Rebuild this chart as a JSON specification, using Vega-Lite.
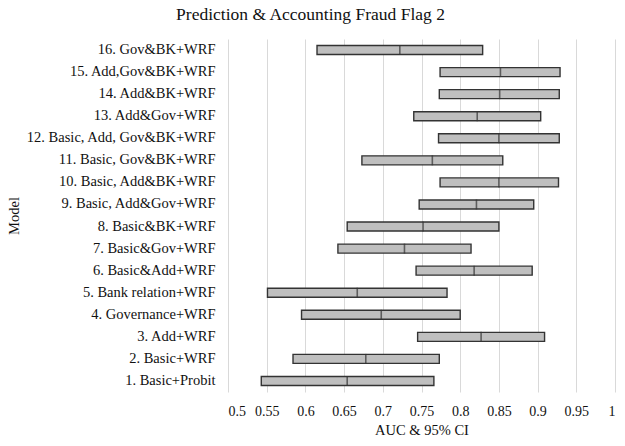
{
  "$schema": "https://vega.github.io/schema/vega-lite/v6.json",
  "autosize": {"type": "none"},
  "padding": {"left": 228, "top": 39, "right": 10, "bottom": 54},
  "width": 387,
  "height": 353,
  "background": "white",
  "title": {
    "text": "Prediction & Accounting Fraud Flag 2",
    "anchor": "middle",
    "frame": "bounds",
    "font": "Liberation Serif",
    "fontSize": 17.5,
    "fontWeight": "normal",
    "color": "#111",
    "offset": 16
  },
  "data": {
    "values": [
      {"id": 1, "model": "1. Basic+Probit", "lo": 0.543, "auc": 0.654, "hi": 0.766},
      {"id": 2, "model": "2. Basic+WRF", "lo": 0.584, "auc": 0.678, "hi": 0.773},
      {"id": 3, "model": "3. Add+WRF", "lo": 0.745, "auc": 0.827, "hi": 0.909},
      {"id": 4, "model": "4. Governance+WRF", "lo": 0.595, "auc": 0.698, "hi": 0.800},
      {"id": 5, "model": "5. Bank relation+WRF", "lo": 0.551, "auc": 0.667, "hi": 0.783},
      {"id": 6, "model": "6. Basic&Add+WRF", "lo": 0.743, "auc": 0.818, "hi": 0.893},
      {"id": 7, "model": "7. Basic&Gov+WRF", "lo": 0.642, "auc": 0.728, "hi": 0.814},
      {"id": 8, "model": "8. Basic&BK+WRF", "lo": 0.654, "auc": 0.752, "hi": 0.850},
      {"id": 9, "model": "9. Basic, Add&Gov+WRF", "lo": 0.747, "auc": 0.821, "hi": 0.895},
      {"id": 10, "model": "10. Basic, Add&BK+WRF", "lo": 0.774, "auc": 0.850, "hi": 0.927},
      {"id": 11, "model": "11. Basic, Gov&BK+WRF", "lo": 0.673, "auc": 0.764, "hi": 0.855},
      {"id": 12, "model": "12. Basic, Add, Gov&BK+WRF", "lo": 0.772, "auc": 0.850, "hi": 0.928},
      {"id": 13, "model": "13. Add&Gov+WRF", "lo": 0.740, "auc": 0.822, "hi": 0.904},
      {"id": 14, "model": "14. Add&BK+WRF", "lo": 0.773, "auc": 0.851, "hi": 0.928},
      {"id": 15, "model": "15. Add,Gov&BK+WRF", "lo": 0.774, "auc": 0.852, "hi": 0.929},
      {"id": 16, "model": "16. Gov&BK+WRF", "lo": 0.615, "auc": 0.722, "hi": 0.829}
    ]
  },
  "encoding": {
    "y": {
      "field": "model",
      "type": "nominal",
      "sort": {"field": "id", "order": "descending"},
      "title": "Model",
      "scale": {"paddingInner": 0, "paddingOuter": 0},
      "axis": {
        "domain": false,
        "ticks": false,
        "labelPadding": 13,
        "labelLimit": 400,
        "labelFont": "Liberation Serif",
        "labelFontSize": 14.5,
        "labelColor": "#111",
        "labelOverlap": false,
        "titleFont": "Liberation Serif",
        "titleFontSize": 14.5,
        "titleFontWeight": "normal",
        "titleColor": "#111",
        "titlePadding": 7
      }
    }
  },
  "layer": [
    {
      "mark": {"type": "bar", "size": 9, "fill": "#bfbfbf", "stroke": "#333", "strokeWidth": 1.4},
      "encoding": {
        "x": {
          "field": "lo",
          "type": "quantitative",
          "title": "AUC & 95% CI",
          "scale": {"domain": [0.5, 1], "nice": false, "zero": false}
        },
        "x2": {"field": "hi"}
      }
    },
    {
      "mark": {"type": "tick", "orient": "vertical", "size": 10, "thickness": 1.6, "color": "#333"},
      "encoding": {
        "x": {"field": "auc", "type": "quantitative"}
      }
    }
  ],
  "config": {
    "view": {"stroke": null},
    "axisX": {
      "values": [0.5, 0.55, 0.6, 0.65, 0.7, 0.75, 0.8, 0.85, 0.9, 0.95, 1],
      "format": "~g",
      "domain": false,
      "ticks": false,
      "grid": true,
      "gridColor": "#d9d9d9",
      "gridWidth": 1,
      "labelOverlap": false,
      "labelPadding": 12,
      "labelFont": "Liberation Serif",
      "labelFontSize": 14,
      "labelColor": "#111",
      "titleFont": "Liberation Serif",
      "titleFontSize": 14.5,
      "titleFontWeight": "normal",
      "titleColor": "#111",
      "titlePadding": 5
    }
  }
}
